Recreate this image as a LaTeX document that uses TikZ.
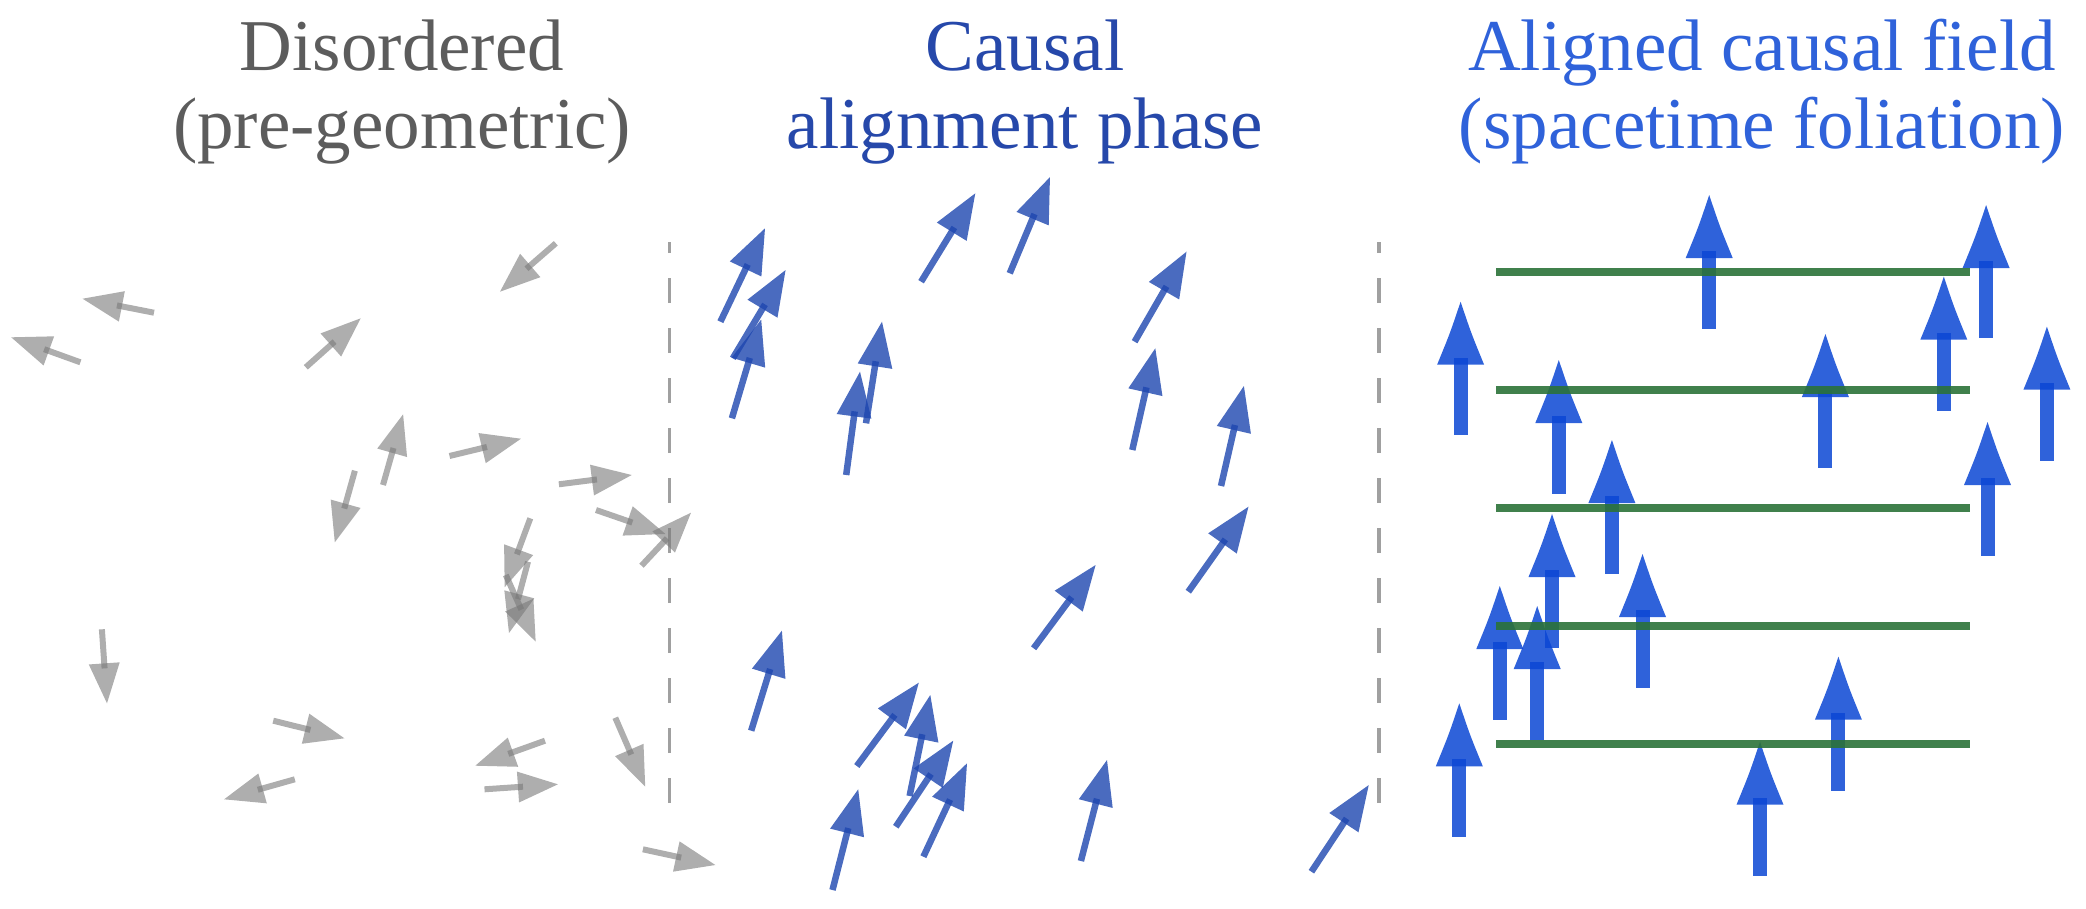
\documentclass[tikz,border=0pt]{standalone}
\usepackage{fontspec}
\setmainfont{Liberation Serif}
\definecolor{grayc}{RGB}{120,120,120}
\definecolor{midblue}{RGB}{29,70,175}
\definecolor{rightblue}{RGB}{10,70,212}
\definecolor{greenc}{RGB}{43,114,56}
\definecolor{titlegray}{RGB}{92,92,92}
\definecolor{titlemid}{RGB}{38,72,170}
\definecolor{titleright}{RGB}{47,98,218}
\tikzset{
  grayarr/.style={fill=grayc, fill opacity=0.6},
  midarr/.style={fill=midblue, fill opacity=0.8},
  rightarr/.style={fill=rightblue, fill opacity=0.85},
  sepline/.style={draw=grayc!70, line width=3.5pt, dash pattern=on 25pt off 25pt},
  foliation/.style={draw=greenc, line width=8pt, draw opacity=0.9},
  titletext/.style={font=\fontsize{73}{85}\selectfont, inner sep=0pt, anchor=base},
}
\def\setgrayarr{\def\arSW{6}\def\arHL{40}\def\arHW{31}\def\arOV{5}}
\def\setmidarr{\def\arSW{6.5}\def\arHL{45}\def\arHW{35}\def\arOV{5}}
\def\setrightarr{\def\arSW{14}\def\arHL{63}\def\arHW{47}\def\arOV{7}}
\newcommand\myarr[5]{%
  \pgfmathsetmacro\arAng{atan2(#3-#5,#4-#2)}%
  \pgfmathsetmacro\arLen{veclen(#4-#2,#5-#3)}%
  \csname set#1\endcsname
  \pgfmathsetmacro\arSB{\arLen-\arHL+\arOV}%
  \begin{scope}[shift={(#2,#3)},rotate=\arAng]
    \fill[#1] (0,{-\arSW/2}) rectangle (\arSB,{\arSW/2});
    \fill[#1] (\arLen,0) .. controls ({\arLen-0.5*\arHL},{0.225*\arHW}) .. ({\arLen-\arHL},{\arHW/2})
      -- ({\arLen-\arHL},{-\arHW/2}) .. controls ({\arLen-0.5*\arHL},{-0.225*\arHW}) .. (\arLen,0) -- cycle;
  \end{scope}}
\newcommand\rarr[3]{\myarr{rightarr}{#1}{#2}{#1}{#3}}
\begin{document}
\begin{tikzpicture}[x=1pt,y=-1pt]
\useasboundingbox (0,0) rectangle (2086,908);
% titles
\node[titletext, text=titlegray] (t1a) at (402,70) {Disordered};
\node[titletext, text=titlegray] (t1b) at (402,148) {(pre-geometric)};
\node[titletext, text=titlemid] (t2a) at (1025,70) {Causal};
\node[titletext, text=titlemid] (t2b) at (1025,148) {alignment phase};
\node[titletext, text=titleright] (t3a) at (1762,70) {Aligned causal field};
\node[titletext, text=titleright] (t3b) at (1762,148) {(spacetime foliation)};
% separators
\coordinate (s1b) at (669.5,803); \coordinate (s1t) at (669.5,241.7);
\coordinate (s2b) at (1379,803); \coordinate (s2t) at (1379,241.7);
\draw[sepline] (s1b) -- (s1t);
\draw[sepline] (s2b) -- (s2t);
% disordered arrows
\myarr{grayarr}{555.8}{243.3}{500}{291.7}
\myarr{grayarr}{154}{312.7}{82.6}{298.7}
\myarr{grayarr}{80.4}{362.3}{11.2}{337.3}
\myarr{grayarr}{305.8}{367.3}{360.7}{318.3}
\myarr{grayarr}{383}{485}{403.1}{414.3}
\myarr{grayarr}{354.9}{470.7}{334.8}{542.3}
\myarr{grayarr}{449.5}{456}{521}{438.7}
\myarr{grayarr}{558.9}{484.3}{631.7}{475}
\myarr{grayarr}{596}{510}{665.5}{534}
\myarr{grayarr}{641.5}{565.7}{691}{512.7}
\myarr{grayarr}{530.3}{518.3}{504.7}{587.2}
\myarr{grayarr}{528}{561.7}{509}{633}
\myarr{grayarr}{505.8}{575}{535.7}{641.7}
\myarr{grayarr}{101.9}{629.3}{107}{703.3}
\myarr{grayarr}{273.2}{720.7}{344.4}{738.3}
\myarr{grayarr}{294.8}{779.3}{224.1}{799.3}
\myarr{grayarr}{545}{740.7}{475.3}{765.7}
\myarr{grayarr}{484.5}{789.3}{557.9}{784.3}
\myarr{grayarr}{615.3}{717.7}{645.2}{786.7}
\myarr{grayarr}{642.9}{849.3}{715.4}{865}
% alignment phase arrows
\myarr{midarr}{720.4}{321.7}{765}{228.3}
\myarr{midarr}{732.8}{358.3}{785.6}{270}
\myarr{midarr}{731.9}{418.3}{761.2}{319.5}
\myarr{midarr}{921.1}{281.7}{975.3}{193.3}
\myarr{midarr}{1009.7}{273.3}{1050}{177}
\myarr{midarr}{1134.6}{341.7}{1186.5}{251.7}
\myarr{midarr}{866}{423.3}{882}{321.7}
\myarr{midarr}{846.2}{475}{860}{371.7}
\myarr{midarr}{1132.3}{450}{1155.3}{348.3}
\myarr{midarr}{1221}{486}{1243.9}{386}
\myarr{midarr}{1188.3}{591.7}{1248.5}{506.7}
\myarr{midarr}{1033.6}{648.3}{1095.6}{565}
\myarr{midarr}{751.2}{730.7}{781.9}{630.7}
\myarr{midarr}{856.8}{766}{918.8}{682.7}
\myarr{midarr}{909.6}{796}{930.3}{695}
\myarr{midarr}{895.8}{826.7}{953.2}{740.7}
\myarr{midarr}{923.4}{856.7}{967}{763.3}
\myarr{midarr}{832.5}{890}{858.2}{789.3}
\myarr{midarr}{1080.9}{861}{1107}{760}
\myarr{midarr}{1311.4}{871.7}{1368.8}{785}
% aligned field arrows
\rarr{1460.6}{435}{301.7}
\rarr{1709.2}{329}{195}
\rarr{1986.1}{338}{205}
\rarr{1943.8}{410.7}{276.7}
\rarr{2046.9}{460.7}{326.7}
\rarr{1825.4}{467.7}{334}
\rarr{1558.8}{493.7}{360}
\rarr{1611.9}{573.7}{440}
\rarr{1987.5}{555.7}{422}
\rarr{1552}{647.7}{514}
\rarr{1642.5}{687.7}{554}
\rarr{1499.8}{720}{586}
\rarr{1537.2}{740}{606}
\rarr{1459.3}{836.7}{703.3}
\rarr{1838.4}{790.7}{656.7}
\rarr{1760}{875.7}{741.7}
% foliation lines
\foreach \yy [count=\i] in {272,390,508,626,744}{
  \coordinate (fl\i) at (1496,\yy); \coordinate (fr\i) at (1970,\yy);
  \draw[foliation] (fl\i) -- (fr\i);
}
\end{tikzpicture}
\end{document}
